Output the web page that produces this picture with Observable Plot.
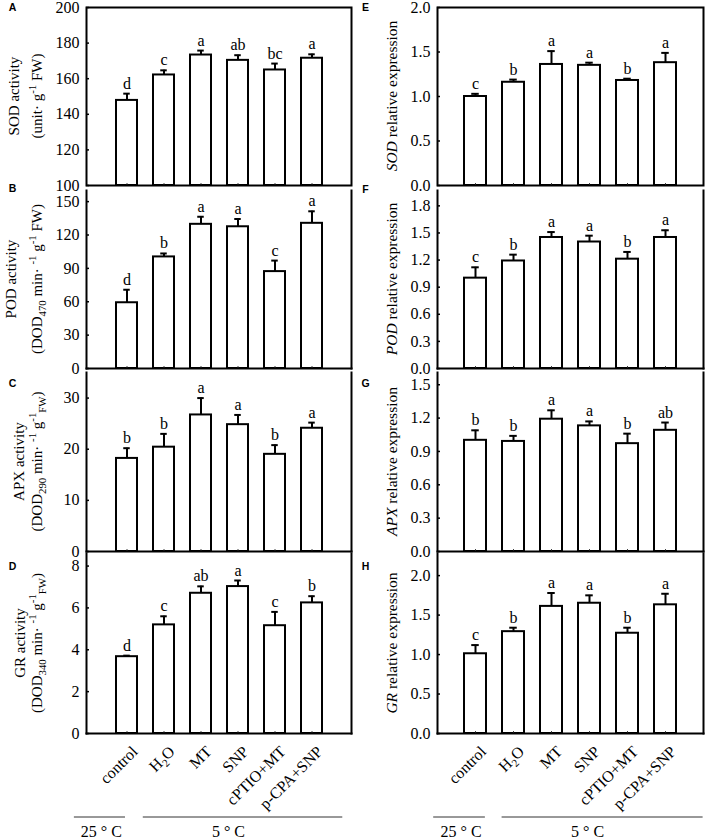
<!DOCTYPE html>
<html><head><meta charset="utf-8">
<script src="https://cdn.jsdelivr.net/npm/d3@7"></script>
<script src="https://cdn.jsdelivr.net/npm/@observablehq/plot@0.6"></script>
<style>
body{margin:0;background:#fff}
#chart{position:relative;width:708px;height:840px;overflow:hidden;background:#fff}
#chart svg{position:absolute;overflow:visible;background:transparent}
</style></head><body><div id="chart"></div>
<script>
// ---------- data ----------
const treatments = ["control","H2O","MT","SNP","cPTIO+MT","p-CPA+SNP"];

const sodActMean = [147.8,162.1,173.3,170.3,164.9,171.5];
const sodActSE   = [3.8,2.6,2.5,2.9,3.6,2.2];
const sodActLetters = ["d","c","a","ab","bc","a"];

const podActMean = [59.1,100.3,129.6,127.4,87.1,130.5];
const podActSE   = [11.7,3.1,6.8,7.0,9.9,10.8];
const podActLetters = ["d","b","a","a","c","a"];

const apxActMean = [18.2,20.4,26.7,24.8,19.0,24.1];
const apxActSE   = [2.0,2.6,3.3,1.9,1.8,1.1];
const apxActLetters = ["b","b","a","a","b","a"];

const grActMean = [3.67,5.19,6.70,7.02,5.15,6.24];
const grActSE   = [0.05,0.41,0.33,0.29,0.66,0.32];
const grActLetters = ["d","c","ab","a","c","b"];

const sodExpMean = [1.00,1.16,1.36,1.35,1.18,1.38];
const sodExpSE   = [0.03,0.03,0.15,0.03,0.02,0.11];
const sodExpLetters = ["c","b","a","a","b","a"];

const podExpMean = [1.00,1.19,1.45,1.40,1.21,1.45];
const podExpSE   = [0.12,0.07,0.06,0.07,0.08,0.08];
const podExpLetters = ["c","b","a","a","b","a"];

const apxExpMean = [1.00,0.99,1.19,1.13,0.97,1.09];
const apxExpSE   = [0.09,0.05,0.08,0.04,0.09,0.07];
const apxExpLetters = ["b","b","a","a","b","ab"];

const grExpMean = [1.01,1.29,1.61,1.65,1.27,1.63];
const grExpSE   = [0.11,0.05,0.17,0.10,0.07,0.14];
const grExpLetters = ["c","b","a","a","b","a"];

const ticksA = [100,120,140,160,180,200];
const ticksB = [0,30,60,90,120,150];
const ticksC = [0,10,20,30];
const ticksD = [0,2,4,6,8];
const ticksE = [0,0.5,1.0,1.5,2.0];
const ticksF = [0,0.3,0.6,0.9,1.2,1.5,1.8];
const ticksG = [0,0.3,0.6,0.9,1.2,1.5];
const ticksH = [0,0.5,1.0,1.5,2.0];

const groupLabels = ["25 ° C","5 ° C"];
const groupStartL = [-0.32,1.50], groupEndL = [1.03,6.77], groupTextL = [0.39,3.75];
const groupStartR = [-0.10,1.70], groupEndR = [1.26,6.99], groupTextR = [0.62,3.95];

// ---------- layout ----------
const SERIF = "Liberation Serif, Times New Roman, serif";
const SANS = "Liberation Sans, Arial, sans-serif";
const cols = [{left:0, ml:86, mr:3, letterX:12.5}, {left:354, ml:83, mr:5, letterX:365.5}];
const rows = [[7,185],[190,368],[372,551],[553,733]];
const letterBase = [[10.7,191.7,386.7,570],[10.7,192.7,386.7,570]];
const chart = document.getElementById("chart");

const panels = [
  {id:"A", col:0,row:0, mean:sodActMean, se:sodActSE, letters:sodActLetters, domain:[100,200], ticks:ticksA, fmt:d3.format("d"),
   title:[[{t:"SOD activity"}],[{t:"(unit· g"},{t:"-1",sup:1},{t:" FW)"}]], tx:[18.7,42]},
  {id:"B", col:0,row:1, mean:podActMean, se:podActSE, letters:podActLetters, domain:[0,160], ticks:ticksB, fmt:d3.format("d"),
   title:[[{t:"POD activity"}],[{t:"(DOD"},{t:"470",sub:1},{t:" min· "},{t:"-1",sup:1},{t:" g"},{t:"-1",sup:1},{t:" FW)"}]], tx:[15.5,42]},
  {id:"C", col:0,row:2, mean:apxActMean, se:apxActSE, letters:apxActLetters, domain:[0,35], ticks:ticksC, fmt:d3.format("d"),
   title:[[{t:"APX activity"}],[{t:"(DOD"},{t:"290",sub:1},{t:" min· "},{t:"-1",sup:1},{t:" g"},{t:"-1",sup:1},{t:"FW",sub:1},{t:")"}]], tx:[23.5,42]},
  {id:"D", col:0,row:3, mean:grActMean, se:grActSE, letters:grActLetters, domain:[0,8.6], ticks:ticksD, fmt:d3.format("d"),
   title:[[{t:"GR activity"}],[{t:"(DOD"},{t:"340",sub:1},{t:" min· "},{t:"-1",sup:1},{t:" g"},{t:"-1",sup:1},{t:"FW",sub:1},{t:")"}]], tx:[25,42]},
  {id:"E", col:1,row:0, mean:sodExpMean, se:sodExpSE, letters:sodExpLetters, domain:[0,2], ticks:ticksE, fmt:d3.format(".1f"),
   title:[[{t:"SOD",it:1},{t:" relative expression"}]], tx:[397]},
  {id:"F", col:1,row:1, mean:podExpMean, se:podExpSE, letters:podExpLetters, domain:[0,1.97], ticks:ticksF, fmt:d3.format(".1f"),
   title:[[{t:"POD",it:1},{t:" relative expression"}]], tx:[397]},
  {id:"G", col:1,row:2, mean:apxExpMean, se:apxExpSE, letters:apxExpLetters, domain:[0,1.61], ticks:ticksG, fmt:d3.format(".1f"),
   title:[[{t:"APX",it:1},{t:" relative expression"}]], tx:[397]},
  {id:"H", col:1,row:3, mean:grExpMean, se:grExpSE, letters:grExpLetters, domain:[0,2.28], ticks:ticksH, fmt:d3.format(".1f"),
   title:[[{t:"GR",it:1},{t:" relative expression"}]], tx:[397]}
];

function addTitleLine(svg, x, y, segs, size){
  const t = d3.select(svg).append("text")
    .attr("transform", `translate(${x},${y}) rotate(-90)`)
    .attr("text-anchor","middle").attr("font-family",SERIF)
    .attr("font-size",size).attr("fill","black");
  let cur = 0;
  segs.forEach(s => {
    const target = s.sup ? -0.42*size : s.sub ? 0.28*size : 0;
    const ts = t.append("tspan").text(s.t);
    if (target !== cur) ts.attr("dy", (target-cur).toFixed(2));
    if (s.sup || s.sub) ts.attr("font-size", (0.72*size).toFixed(1));
    if (s.it) ts.attr("font-style","italic");
    cur = target;
  });
}

panels.forEach(p => {
  const c = cols[p.col];
  const [ft, fb] = rows[p.row];
  const mt = p.row === 0 ? 7 : 5;
  const last = p.row === 3;
  const mb = last ? 75 : 3;
  const width = 354;
  const fw = width - c.ml - c.mr;
  const fh = fb - ft;
  const data = treatments.map((t,i) => ({t, v:p.mean[i], e:p.mean[i]+p.se[i], l:p.letters[i]}));
  const marks = [
    Plot.barY(data, {x:"t", y1:p.domain[0], y2:"v", fill:"white", stroke:"black", strokeWidth:2}),
    Plot.ruleX(data, {x:"t", y1:"v", y2:"e", stroke:"black", strokeWidth:2}),
    Plot.tickY(data, {x:"t", y:"e", stroke:"black", strokeWidth:2, insetLeft:7.25, insetRight:7.25}),
    Plot.text(data, {x:"t", y:"e", text:"l", dy:-5, lineAnchor:"bottom", fontSize:16, fontFamily:SERIF, fill:"black"}),
    Plot.tickY(p.ticks, {y:d=>d, insetRight:fw-3, stroke:"black", strokeWidth:1.5}),
    Plot.tickX(data, {x:"t", insetTop:fh-2, stroke:"#444", strokeWidth:1}),
    Plot.axisY({ticks:p.ticks, tickSize:0, tickPadding:7, tickFormat:p.fmt, fontSize:16, fontFamily:SERIF, fill:"black", label:null}),
  ];
  if (p.row === 0) marks.push(Plot.frame({stroke:"black", strokeWidth:2}));
  else marks.push(
    Plot.frame({anchor:"left", stroke:"black", strokeWidth:2}),
    Plot.frame({anchor:"right", stroke:"black", strokeWidth:2}),
    Plot.frame({anchor:"bottom", stroke:"black", strokeWidth:2}));
  const svg = Plot.plot({
    width, height: fh+mt+mb,
    marginLeft:c.ml, marginRight:c.mr, marginTop:mt, marginBottom:mb,
    style:{background:"transparent", overflow:"visible", fontFamily:SERIF, color:"black"},
    x:{type:"band", domain:treatments, paddingInner:0.433, paddingOuter:0.7165, axis:null},
    y:{domain:p.domain, axis:null},
    marks
  });
  svg.style.left = c.left + "px";
  svg.style.top = (ft - mt) + "px";
  chart.appendChild(svg);
  // rotated category labels, placed with the plot's own x scale
  if (last) {
    const xs = svg.scale("x");
    const g = d3.select(svg).append("g").attr("font-family",SERIF).attr("font-size",16).attr("fill","black");
    treatments.forEach(t => {
      const cx = xs.apply(t) + xs.bandwidth/2 + 8.5;
      const cy = mt + fh + 16;
      const txt = g.append("text").attr("transform",`translate(${cx},${cy}) rotate(-45)`)
        .attr("text-anchor","end").attr("dy","0.32em");
      if (t === "H2O") {
        txt.append("tspan").text("H");
        txt.append("tspan").attr("dy","4").attr("font-size","11").text("2");
        txt.append("tspan").attr("dy","-4").text("O");
      } else txt.text(t);
    });
  }
  // titles
  const size = p.col === 0 ? 15 : 15.5;
  const yc = (ft+fb)/2 - (ft-mt);
  p.title.forEach((line, k) => addTitleLine(svg, p.tx[k] - c.left, yc, line, size));
  // panel letter
  d3.select(svg).append("text").attr("x", c.letterX - c.left).attr("y", letterBase[p.col][p.row] - (ft-mt))
    .attr("font-family",SANS).attr("font-weight","bold").attr("font-size",10.5).attr("fill","black").text(p.id);
});

// group annotations under the x axes
[[cols[0], groupStartL, groupEndL, groupTextL],[cols[1], groupStartR, groupEndR, groupTextR]].forEach(([c, s, e, tx]) => {
  const g = groupLabels.map((label,i) => ({label, s:s[i], e:e[i], tx:tx[i]}));
  const svg = Plot.plot({
    width:354, height:35, marginLeft:c.ml, marginRight:c.mr, marginTop:0, marginBottom:0,
    style:{background:"transparent", overflow:"visible", fontFamily:SERIF},
    x:{domain:[0,7], axis:null}, y:{domain:[0,1], range:[11.5,31.5], axis:null},
    marks:[
      Plot.ruleY(g, {x1:"s", x2:"e", y:0, stroke:"#333", strokeWidth:1}),
      Plot.text(g, {x:"tx", y:1, text:"label", lineAnchor:"bottom", fontSize:16, fontFamily:SERIF, fill:"black"})
    ]
  });
  svg.style.left = c.left + "px";
  svg.style.top = "805px";
  chart.appendChild(svg);
});
</script></body></html>
